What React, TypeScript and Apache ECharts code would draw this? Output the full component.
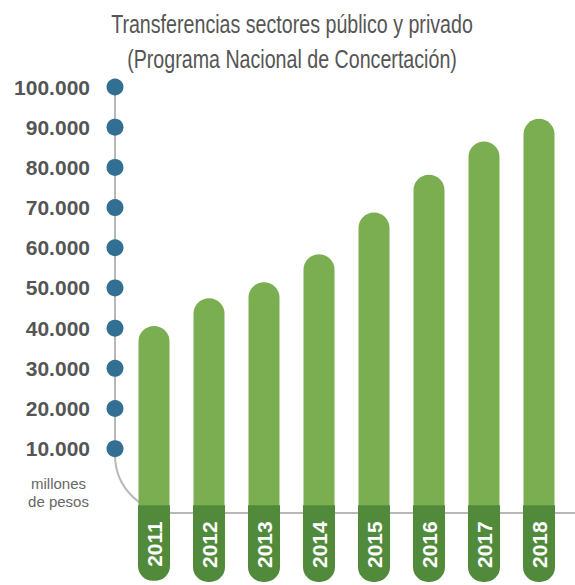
import React, { useEffect, useRef } from "react";
import * as echarts from "echarts";

const years = ["2011", "2012", "2013", "2014", "2015", "2016", "2017", "2018"];
const values = [40000, 47000, 51000, 58000, 68500, 78000, 86300, 92000];
const tickValues = [10000, 20000, 30000, 40000, 50000, 60000, 70000, 80000, 90000, 100000];
const axisMin = -6000;
const axisMax = 100000;
const titleLines = ["Transferencias sectores público y privado", "(Programa Nacional de Concertación)"];
const unitText = "millones\nde pesos";

const fmt = (v: number) => String(v).replace(/\B(?=(\d{3})+(?!\d))/g, ".");

export default function App() {
  const ref = useRef<HTMLDivElement>(null);
  useEffect(() => {
    if (!ref.current) return;
    const chart = echarts.init(ref.current, null, { renderer: "svg" });
    const BAR_W = 31;
    const TITLE_FONT = "'Liberation Sans', Arial, sans-serif";
    const TITLE_SIZE = 26;
    let scaleX = 0.82;
    try {
      const ctx = document.createElement("canvas").getContext("2d");
      if (ctx) {
        ctx.font = `${TITLE_SIZE}px 'Liberation Sans', Arial, sans-serif`;
        const w = ctx.measureText(titleLines[0]).width;
        if (w > 0) scaleX = 362 / w;
      }
    } catch (e) {}
    const option: any = {
      animation: false,
      backgroundColor: "#ffffff",
      grid: [
        { left: 126.5, right: 8.5, top: 87, bottom: 72 },
        { left: 107, width: 16, top: 87, bottom: 72 },
      ],
      xAxis: [
        {
          type: "category",
          gridIndex: 0,
          data: years,
          z: 10,
          axisLine: { show: false },
          axisTick: { show: false },
          axisLabel: {
            rotate: 90,
            margin: -4,
            color: "#ffffff",
            fontWeight: "bold",
            fontSize: 21,
            fontFamily: "'Liberation Sans', Arial, sans-serif",
            backgroundColor: "#528a3c",
            padding: [5, 16, 5, 14],
            lineHeight: 22,
            borderRadius: [15, 0, 0, 15],
          },
        },
        { type: "value", gridIndex: 1, min: -1, max: 1, show: false },
      ],
      yAxis: [
        { type: "value", gridIndex: 0, min: axisMin, max: axisMax, show: false },
        {
          type: "value",
          gridIndex: 1,
          min: axisMin,
          max: axisMax,
          axisLine: { show: false },
          axisTick: { show: false },
          splitLine: { show: false },
          axisLabel: {
            customValues: tickValues,
            formatter: (v: number) => fmt(v),
            margin: 17,
            color: "#555555",
            fontWeight: "bold",
            fontSize: 21,
            fontFamily: "'Liberation Sans', Arial, sans-serif",
          },
        },
      ],
      graphic: [
        {
          type: "text",
          z: 5,
          x: 292,
          y: 6,
          scaleX: scaleX,
          style: {
            text: titleLines.join("\n"),
            fill: "#555555",
            fontSize: TITLE_SIZE,
            fontFamily: TITLE_FONT,
            align: "center",
            verticalAlign: "top",
            lineHeight: 35,
          },
        },
        {
          type: "line",
          z: 0,
          shape: { x1: 115, y1: 87, x2: 115, y2: 455 },
          style: { stroke: "#b8b8b8", lineWidth: 2 },
        },
        {
          type: "arc",
          z: 0,
          shape: { cx: 173, cy: 455, r: 58, startAngle: Math.PI / 2, endAngle: Math.PI, clockwise: true },
          style: { stroke: "#b8b8b8", lineWidth: 2, fill: "none" },
        },
        {
          type: "line",
          z: 0,
          shape: { x1: 173, y1: 513, x2: 575, y2: 513 },
          style: { stroke: "#b8b8b8", lineWidth: 2 },
        },
        {
          type: "text",
          z: 5,
          x: 58.5,
          y: 474,
          style: {
            text: unitText,
            fill: "#666666",
            fontSize: 15,
            fontFamily: "'Liberation Sans', Arial, sans-serif",
            align: "center",
            verticalAlign: "top",
            lineHeight: 18,
          },
        },
      ],
      series: [
        {
          type: "custom",
          xAxisIndex: 0,
          yAxisIndex: 0,
          z: 2,
          encode: { x: 0, y: 1 },
          data: years.map((y, i) => [i, values[i]]),
          renderItem: (params: any, api: any) => {
            const i = api.value(0);
            const v = api.value(1);
            const top = api.coord([i, v]);
            const bottom = api.coord([i, axisMin]);
            return {
              type: "rect",
              shape: {
                x: top[0] - BAR_W / 2,
                y: top[1],
                width: BAR_W,
                height: bottom[1] - top[1],
                r: [BAR_W / 2, BAR_W / 2, 0, 0],
              },
              style: { fill: "#7aae50" },
            };
          },
        },
        {
          type: "scatter",
          xAxisIndex: 1,
          yAxisIndex: 1,
          z: 3,
          clip: false,
          symbolSize: 17,
          itemStyle: { color: "#336f92", opacity: 1 },
          data: tickValues.map((v) => [0, v]),
        },
      ],
    };
    chart.setOption(option);
    return () => chart.dispose();
  }, []);
  return (
    <div
      ref={ref}
      style={{ position: "fixed", left: 0, top: 0, width: 575, height: 585 }}
    />
  );
}
